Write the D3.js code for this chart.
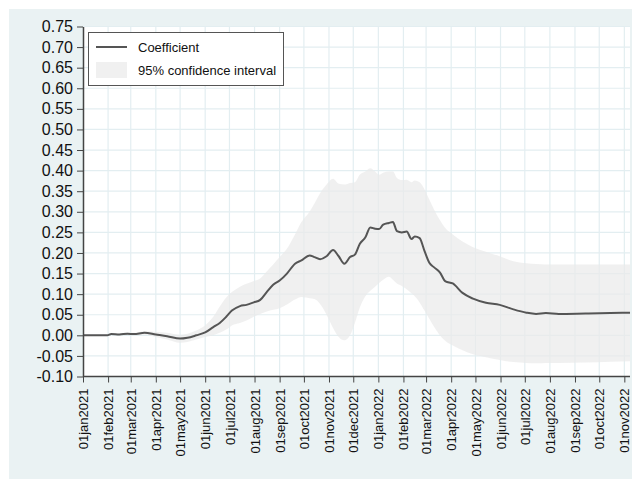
<!DOCTYPE html>
<html><head><meta charset="utf-8">
<script src="https://cdn.jsdelivr.net/npm/d3@7"></script>
<style>body{margin:0;background:#fff}svg{display:block}text{font-family:"Liberation Sans",Arial,sans-serif}</style>
</head><body><svg id="c" width="633" height="480"></svg>
<script>
const dates = ["2021-01-01","2021-01-31","2021-02-05","2021-02-15","2021-02-25","2021-03-05","2021-03-18","2021-04-01","2021-04-15","2021-05-01","2021-05-10","2021-05-21","2021-06-01","2021-06-11","2021-06-19","2021-06-27","2021-07-04","2021-07-14","2021-07-22","2021-07-31","2021-08-08","2021-08-16","2021-08-24","2021-09-01","2021-09-10","2021-09-20","2021-09-28","2021-10-08","2021-10-14","2021-10-21","2021-10-29","2021-11-06","2021-11-13","2021-11-20","2021-11-27","2021-12-03","2021-12-09","2021-12-16","2021-12-22","2021-12-28","2022-01-02","2022-01-07","2022-01-14","2022-01-19","2022-01-24","2022-01-30","2022-02-05","2022-02-11","2022-02-15","2022-02-21","2022-02-27","2022-03-05","2022-03-11","2022-03-18","2022-03-25","2022-04-03","2022-04-15","2022-04-28","2022-05-14","2022-05-31","2022-06-17","2022-07-03","2022-07-15","2022-07-27","2022-08-12","2022-09-14","2022-10-15","2022-11-08"];
const coef = [0,0,0.003,0.002,0.004,0.003,0.006,0.002,-0.002,-0.008,-0.006,0.0,0.007,0.020,0.030,0.045,0.060,0.071,0.074,0.080,0.086,0.105,0.123,0.133,0.150,0.174,0.182,0.194,0.190,0.185,0.192,0.207,0.192,0.174,0.190,0.196,0.222,0.238,0.262,0.259,0.258,0.269,0.273,0.275,0.253,0.250,0.252,0.234,0.240,0.236,0.205,0.176,0.165,0.153,0.131,0.126,0.103,0.089,0.079,0.074,0.063,0.055,0.052,0.054,0.052,0.053,0.054,0.055];
const lower = [0,-0.001,0.001,0.0,0.001,0.0,0.002,-0.004,-0.010,-0.018,-0.016,-0.010,-0.004,0.0,0.006,0.014,0.024,0.030,0.036,0.045,0.052,0.058,0.062,0.066,0.075,0.087,0.093,0.090,0.088,0.076,0.050,0.018,-0.004,-0.012,0.0,0.030,0.067,0.095,0.108,0.118,0.127,0.135,0.142,0.135,0.126,0.120,0.112,0.102,0.095,0.080,0.060,0.040,0.020,0.0,-0.014,-0.025,-0.036,-0.046,-0.053,-0.060,-0.065,-0.067,-0.068,-0.067,-0.067,-0.066,-0.064,-0.063];
const upper = [0,0.001,0.005,0.004,0.007,0.006,0.010,0.008,0.006,0.001,0.004,0.012,0.024,0.045,0.070,0.092,0.105,0.118,0.125,0.132,0.138,0.155,0.172,0.190,0.210,0.245,0.275,0.300,0.320,0.345,0.366,0.380,0.368,0.366,0.370,0.372,0.390,0.398,0.406,0.398,0.390,0.395,0.398,0.398,0.382,0.377,0.378,0.372,0.376,0.372,0.355,0.330,0.305,0.280,0.260,0.245,0.228,0.214,0.203,0.192,0.180,0.175,0.173,0.172,0.172,0.172,0.172,0.172];
const yTicks = [-0.10,-0.05,0.00,0.05,0.10,0.15,0.20,0.25,0.30,0.35,0.40,0.45,0.50,0.55,0.60,0.65,0.70,0.75];
const legendLabels = ["Coefficient","95% confidence interval"];

const parse = d3.timeParse("%Y-%m-%d");
const data = dates.map((d,i)=>({date:parse(d), c:coef[i], lo:lower[i], hi:upper[i]}));
const svg = d3.select("#c");
const L=83, R=630, T=26.5, B=376.5;
const x = d3.scaleTime().domain([parse("2021-01-01"), parse("2022-11-08")]).range([L,R]);
const y = d3.scaleLinear().domain([-0.10,0.75]).range([B,T]);
const monthTicks = d3.timeMonth.range(parse("2021-01-01"), parse("2022-11-02"));

svg.append("rect").attr("x",9).attr("y",9).attr("width",623).attr("height",470).attr("fill","#EAF2F3");
svg.append("rect").attr("x",L).attr("y",T).attr("width",R-L).attr("height",B-T).attr("fill","#fff");

const grid = svg.append("g").attr("stroke","#E3EEF1").attr("stroke-width",1.2);
yTicks.forEach(t=>grid.append("line").attr("x1",L).attr("x2",R).attr("y1",y(t)).attr("y2",y(t)));
monthTicks.forEach(t=>grid.append("line").attr("x1",x(t)).attr("x2",x(t)).attr("y1",T).attr("y2",B));

svg.append("path").datum(data)
  .attr("d", d3.area().x(d=>x(d.date)).y0(d=>y(d.lo)).y1(d=>y(d.hi)).curve(d3.curveMonotoneX))
  .attr("fill","#E9E9E9").attr("fill-opacity",0.7);
svg.append("path").datum(data)
  .attr("d", d3.line().x(d=>x(d.date)).y(d=>y(d.c)).curve(d3.curveMonotoneX))
  .attr("fill","none").attr("stroke","#555").attr("stroke-width",2);

const fmt = d => d3.timeFormat("%d%b%Y")(d).toLowerCase();
const yFmt = d => d3.format(".2f")(d).replace("\u2212","-");
const yAxis = svg.append("g").attr("transform",`translate(${L},0)`)
  .call(d3.axisLeft(y).tickValues(yTicks).tickFormat(yFmt).tickSize(6).tickPadding(4).tickSizeOuter(0));
yAxis.selectAll("text").attr("font-size",16).attr("fill","#111").style("font-family","'Liberation Sans',Arial,sans-serif");
const xAxis = svg.append("g").attr("transform",`translate(0,${B})`)
  .call(d3.axisBottom(x).tickValues(monthTicks).tickFormat(fmt).tickSize(6).tickSizeOuter(0));
xAxis.selectAll("text").attr("font-size",13).attr("fill","#111")
  .attr("transform","rotate(-90)").attr("text-anchor","end").attr("x",-12).attr("y",0).attr("dy","0.35em")
  .style("font-family","'Liberation Sans',Arial,sans-serif");
[yAxis,xAxis].forEach(a=>{a.select(".domain").attr("stroke","#444").attr("stroke-width",1.5);a.selectAll(".tick line").attr("stroke","#444");});
xAxis.select(".domain").attr("d",`M${L},0H${R}`);

const lg = svg.append("g");
lg.append("rect").attr("x",88.5).attr("y",32.5).attr("width",195).attr("height",53).attr("fill","#fff").attr("stroke","#555");
lg.append("line").attr("x1",96).attr("x2",127).attr("y1",47).attr("y2",47).attr("stroke","#555").attr("stroke-width",2);
lg.append("rect").attr("x",96).attr("y",62).attr("width",31).attr("height",16).attr("fill","#F0F0F0");
lg.append("text").attr("x",138).attr("y",47).attr("dy","0.35em").attr("font-size",13).attr("fill","#111").text(legendLabels[0]);
lg.append("text").attr("x",138).attr("y",70).attr("dy","0.35em").attr("font-size",13).attr("fill","#111").text(legendLabels[1]);
</script></body></html>
